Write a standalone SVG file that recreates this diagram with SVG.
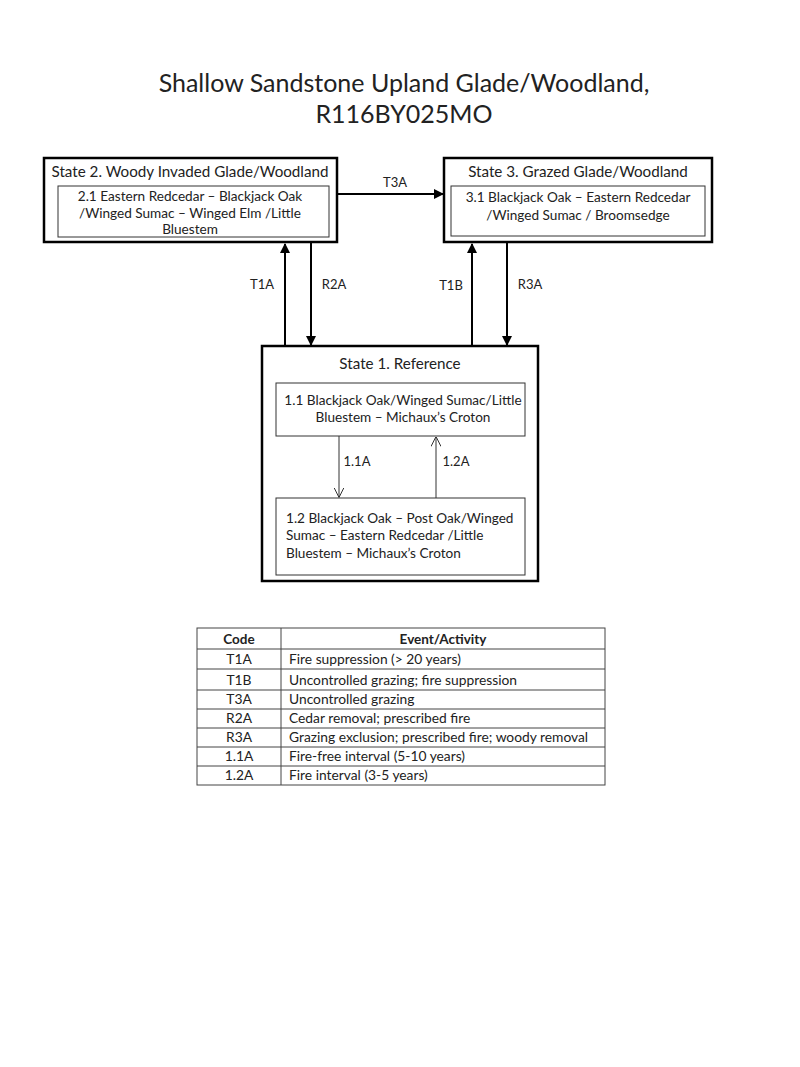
<svg xmlns="http://www.w3.org/2000/svg" width="800" height="1067" viewBox="0 0 800 1067">
<style>
text{font-family:Lato,"Open Sans","Liberation Sans",sans-serif;fill:#222}
.title{font-size:25px}
.st{font-size:15.2px}
.in{font-size:13.6px}
.lb{font-size:13px}
.tb{font-size:13.8px}
.hd{font-size:13.5px;font-weight:bold}
.outer{fill:#fff;stroke:#000;stroke-width:2.5}
.inner{fill:#fff;stroke:#333;stroke-width:1}
.conn{stroke:#000;stroke-width:2;fill:none}
.thin{stroke:#333;stroke-width:1;fill:none}
.grid{stroke:#444;stroke-width:1;fill:none}
</style>
<defs>
<marker id="ah" viewBox="0 0 10 10" refX="9" refY="5" markerWidth="5" markerHeight="5" orient="auto" markerUnits="strokeWidth"><path d="M0,0 L10,5 L0,10 z" fill="#000"/></marker>
<marker id="oh" viewBox="0 0 10 10" refX="9.5" refY="5" markerWidth="10" markerHeight="10" orient="auto" markerUnits="strokeWidth"><path d="M0,0 L10,5 L0,10" fill="none" stroke="#333" stroke-width="1"/></marker>
</defs>
<rect width="800" height="1067" fill="#fff"/>
<g id="title">
<text class="title" x="404" y="92" text-anchor="middle">Shallow Sandstone Upland Glade/Woodland,</text>
<text class="title" x="404" y="123" text-anchor="middle">R116BY025MO</text>
</g>
<g id="state2">
<rect class="outer" x="44" y="158" width="293" height="84"/>
<text class="st" x="190" y="177" text-anchor="middle">State 2. Woody Invaded Glade/Woodland</text>
<rect class="inner" x="58" y="186" width="271" height="51"/>
<text class="in" x="190" y="201" text-anchor="middle">2.1 Eastern Redcedar – Blackjack Oak</text>
<text class="in" x="190" y="218" text-anchor="middle">/Winged Sumac – Winged Elm /Little</text>
<text class="in" x="190" y="234" text-anchor="middle">Bluestem</text>
</g>
<g id="state3">
<rect class="outer" x="444" y="158" width="268" height="84"/>
<text class="st" x="578" y="177" text-anchor="middle">State 3. Grazed Glade/Woodland</text>
<rect class="inner" x="451" y="186" width="254" height="50"/>
<text class="in" x="578" y="202" text-anchor="middle">3.1 Blackjack Oak – Eastern Redcedar</text>
<text class="in" x="578" y="220" text-anchor="middle">/Winged Sumac / Broomsedge</text>
</g>
<g id="state1">
<rect class="outer" x="262" y="346" width="276" height="235"/>
<text class="st" x="400" y="369" text-anchor="middle">State 1. Reference</text>
<g id="p11">
<rect class="inner" x="276" y="383" width="249" height="53"/>
<text class="in" x="403" y="405" text-anchor="middle">1.1 Blackjack Oak/Winged Sumac/Little</text>
<text class="in" x="403" y="422" text-anchor="middle">Bluestem – Michaux’s Croton</text>
</g>
<g id="p12">
<rect class="inner" x="276" y="498" width="249" height="77"/>
<text class="in" x="286" y="523">1.2 Blackjack Oak – Post Oak/Winged</text>
<text class="in" x="286" y="540">Sumac – Eastern Redcedar /Little</text>
<text class="in" x="286" y="558">Bluestem – Michaux’s Croton</text>
</g>
</g>
<g id="connectors">
<line class="conn" x1="338" y1="194" x2="443" y2="194" marker-end="url(#ah)"/>
<line class="conn" x1="285" y1="345" x2="285" y2="244" marker-end="url(#ah)"/>
<line class="conn" x1="311" y1="243" x2="311" y2="345" marker-end="url(#ah)"/>
<line class="conn" x1="472" y1="345" x2="472" y2="244" marker-end="url(#ah)"/>
<line class="conn" x1="507" y1="243" x2="507" y2="345" marker-end="url(#ah)"/>
<line class="thin" x1="339" y1="436" x2="339" y2="497" marker-end="url(#oh)"/>
<line class="thin" x1="436" y1="498" x2="436" y2="437" marker-end="url(#oh)"/>
<text class="lb" x="395" y="187" text-anchor="middle">T3A</text>
<text class="lb" x="262" y="289" text-anchor="middle">T1A</text>
<text class="lb" x="334" y="289" text-anchor="middle">R2A</text>
<text class="lb" x="451" y="290" text-anchor="middle">T1B</text>
<text class="lb" x="530" y="289" text-anchor="middle">R3A</text>
<text class="lb" x="357" y="466" text-anchor="middle">1.1A</text>
<text class="lb" x="456" y="466" text-anchor="middle">1.2A</text>
</g>
<g id="legend">
<rect class="grid" x="197" y="628" width="408" height="157"/>
<line class="grid" x1="281" y1="628" x2="281" y2="785"/>
<line class="grid" x1="197" y1="649" x2="605" y2="649"/>
<line class="grid" x1="197" y1="669" x2="605" y2="669"/>
<line class="grid" x1="197" y1="690" x2="605" y2="690"/>
<line class="grid" x1="197" y1="709" x2="605" y2="709"/>
<line class="grid" x1="197" y1="728" x2="605" y2="728"/>
<line class="grid" x1="197" y1="747" x2="605" y2="747"/>
<line class="grid" x1="197" y1="766" x2="605" y2="766"/>
<text class="hd" x="239" y="644" text-anchor="middle">Code</text>
<text class="hd" x="443" y="644" text-anchor="middle">Event/Activity</text>
<text class="tb" x="239" y="664" text-anchor="middle">T1A</text>
<text class="tb" x="289" y="664">Fire suppression (&gt; 20 years)</text>
<text class="tb" x="239" y="685" text-anchor="middle">T1B</text>
<text class="tb" x="289" y="685">Uncontrolled grazing; fire suppression</text>
<text class="tb" x="239" y="704" text-anchor="middle">T3A</text>
<text class="tb" x="289" y="704">Uncontrolled grazing</text>
<text class="tb" x="239" y="723" text-anchor="middle">R2A</text>
<text class="tb" x="289" y="723">Cedar removal; prescribed fire</text>
<text class="tb" x="239" y="742" text-anchor="middle">R3A</text>
<text class="tb" x="289" y="742">Grazing exclusion; prescribed fire; woody removal</text>
<text class="tb" x="239" y="761" text-anchor="middle">1.1A</text>
<text class="tb" x="289" y="761">Fire-free interval  (5-10 years)</text>
<text class="tb" x="239" y="780" text-anchor="middle">1.2A</text>
<text class="tb" x="289" y="780">Fire interval (3-5 years)</text>
</g>
</svg>
